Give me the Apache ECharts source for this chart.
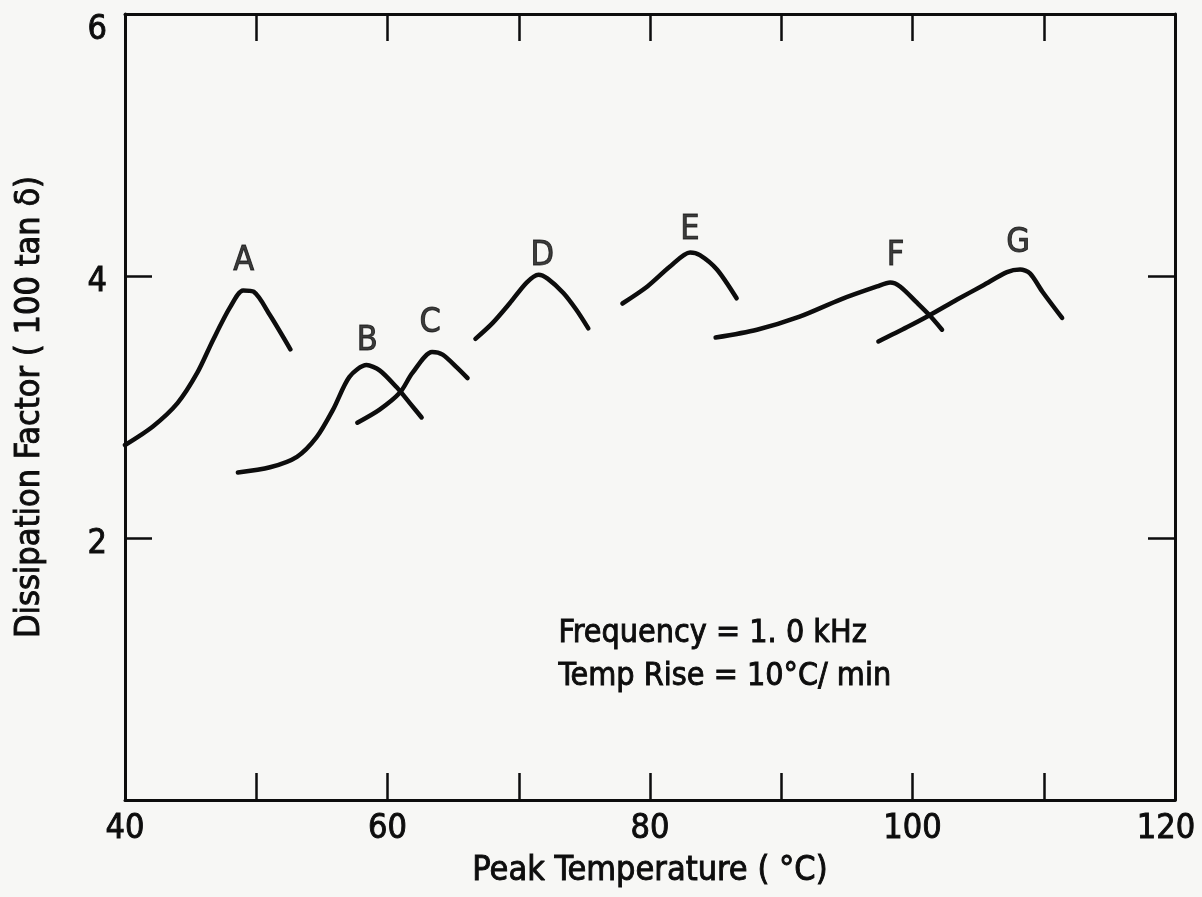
<!DOCTYPE html>
<html>
<head>
<meta charset="utf-8">
<script src="https://cdn.jsdelivr.net/npm/echarts@6/dist/echarts.min.js"></script>
<style>
  html, body { margin: 0; padding: 0; background: #f7f7f5; }
  #chart { width: 1202px; height: 897px; }
</style>
</head>
<body>
<div id="chart"></div>
<script>
// ---- data ----
const curveA = [[40.0,2.71],[42.1,2.85],[44.0,3.03],[45.5,3.26],[46.7,3.51],[48.0,3.76],[49.0,3.89],[49.8,3.88],[51.05,3.70],[52.6,3.44]];
const curveB = [[48.6,2.50],[51.05,2.54],[53.1,2.62],[54.6,2.77],[55.85,2.98],[57.1,3.23],[58.4,3.32],[59.4,3.28],[60.7,3.15],[61.7,3.03],[62.6,2.92]];
const curveC = [[57.7,2.88],[59.4,2.98],[60.95,3.11],[61.9,3.26],[63.4,3.42],[64.2,3.40],[65.3,3.30],[66.1,3.22]];
const curveD = [[66.7,3.52],[68.0,3.64],[69.3,3.79],[70.6,3.95],[71.5,4.01],[72.2,3.98],[73.4,3.87],[74.4,3.74],[75.3,3.60]];
const curveE = [[77.9,3.79],[79.8,3.92],[81.5,4.07],[83.05,4.18],[83.8,4.16],[85.1,4.05],[86.6,3.83]];
const curveF = [[85.0,3.53],[88.15,3.59],[91.4,3.69],[94.5,3.82],[97.3,3.92],[98.3,3.95],[99.05,3.92],[100.3,3.80],[101.3,3.70],[102.25,3.59]];
const curveG = [[97.4,3.50],[99.6,3.61],[101.3,3.70],[103.4,3.82],[105.4,3.93],[107.2,4.03],[108.2,4.05],[108.95,4.02],[109.9,3.88],[111.4,3.68]];
const curveNames = ['A','B','C','D','E','F','G'];
const labelPositions = [[49.05,4.11],[58.45,3.50],[63.25,3.64],[71.8,4.15],[83.05,4.35],[98.7,4.15],[108.05,4.25]];
const xTickLabels = [40, 60, 80, 100, 120];
const yTickLabels = [2, 4, 6];
const annotationLines = ['Frequency = 1. 0 kHz', 'Temp Rise = 10°C/ min'];

const FONT = "'DejaVu Sans Condensed', 'Liberation Sans Narrow', sans-serif";
const INK = '#0d0d0d';
const THICK = { textBorderColor: INK, textBorderWidth: 0.9 };

const curves = [curveA, curveB, curveC, curveD, curveE, curveF, curveG];

const series = curves.map((c, i) => ({
  name: curveNames[i],
  type: 'line',
  data: c,
  smooth: 0.28,
  showSymbol: false,
  lineStyle: { color: INK, width: 4.5, cap: 'round', join: 'round' },
  xAxisIndex: 0, yAxisIndex: 0,
  silent: true,
  animation: false
}));

series.push({
  type: 'scatter',
  data: labelPositions.map((p, i) => ({ value: p, name: curveNames[i] })),
  symbolSize: 0,
  label: Object.assign({
    show: true, position: 'inside',
    formatter: p => p.name,
    fontFamily: FONT, fontSize: 34, color: INK
  }, THICK),
  silent: true,
  animation: false
});

const axisLineStyle = { show: true, onZero: false, lineStyle: { color: INK, width: 3 } };
const tickStyle = { show: true, inside: true, length: 27, lineStyle: { color: INK, width: 2.5 } };
const tickFont = Object.assign({ fontFamily: FONT, fontSize: 34, color: INK }, THICK);

const option = {
  backgroundColor: '#f7f7f5',
  animation: false,
  grid: { left: 125, right: 27, top: 14, bottom: 97, containLabel: false, outerBoundsMode: 'none' },
  xAxis: [
    {
      type: 'value', min: 40, max: 120, interval: 10, position: 'bottom',
      axisLine: axisLineStyle, axisTick: tickStyle, splitLine: { show: false },
      axisLabel: {
        formatter: v => {
          if (xTickLabels.indexOf(v) < 0) return '';
          return v === 120 ? '{last|' + v + '}' : '{n|' + v + '}';
        },
        margin: 12,
        rich: {
          n: tickFont,
          last: Object.assign({ padding: [0, 18, 0, 0] }, tickFont)
        }
      },
      name: 'Peak Temperature ( °C)', nameLocation: 'middle', nameGap: 54,
      nameTextStyle: Object.assign({ fontFamily: FONT, fontSize: 34, color: INK }, THICK)
    },
    {
      type: 'value', min: 40, max: 120, interval: 10, position: 'top',
      axisLine: axisLineStyle, axisTick: tickStyle, splitLine: { show: false },
      axisLabel: { show: false }
    }
  ],
  yAxis: [
    {
      type: 'value', min: 0, max: 6, interval: 2, position: 'left',
      axisLine: axisLineStyle, axisTick: tickStyle, splitLine: { show: false },
      axisLabel: {
        formatter: v => (yTickLabels.indexOf(v) < 0 ? '' : (v === 6 ? '{six|6}' : '{n|' + v + '}')),
        margin: 18,
        rich: {
          six: Object.assign({ padding: [32, 0, 0, 0] }, tickFont),
          n: Object.assign({ padding: [12, 0, 0, 0] }, tickFont)
        }
      },
      name: 'Dissipation Factor ( 100 tan δ)', nameLocation: 'middle', nameGap: 78, nameRotate: 90,
      nameTextStyle: Object.assign({ fontFamily: FONT, fontSize: 34, color: INK }, THICK)
    },
    {
      type: 'value', min: 0, max: 6, interval: 2, position: 'right',
      axisLine: axisLineStyle, axisTick: tickStyle, splitLine: { show: false },
      axisLabel: { show: false }
    }
  ],
  graphic: [
    {
      type: 'text', left: 558, top: 612,
      style: { text: annotationLines.join('\n'), fontFamily: FONT, fontSize: 32, lineHeight: 43, fill: INK, stroke: INK, lineWidth: 0.9 }
    }
  ],
  series: series
};

const chart = echarts.init(document.getElementById('chart'), null, { renderer: 'canvas' });
chart.setOption(option);
</script>
</body>
</html>
